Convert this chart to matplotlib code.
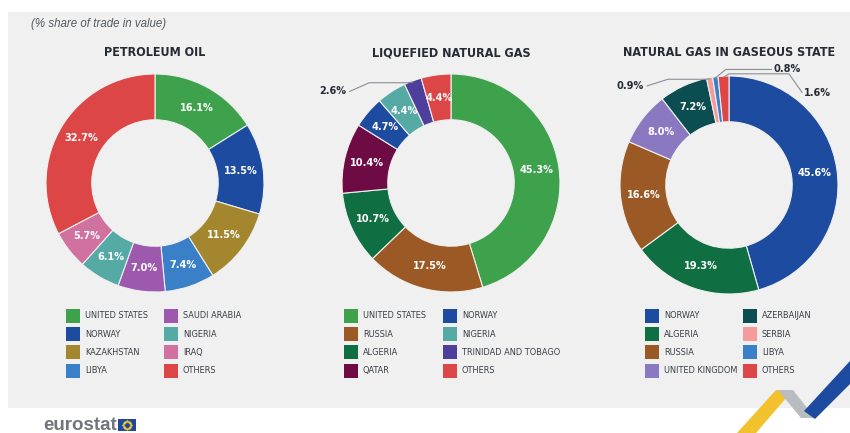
import numpy as np
import matplotlib.pyplot as plt
from matplotlib.patches import Rectangle, Polygon

W, H = 850, 433

# data (share of trade in value, %)
oil_labels = ['UNITED STATES', 'NORWAY', 'KAZAKHSTAN', 'LIBYA',
              'SAUDI ARABIA', 'NIGERIA', 'IRAQ', 'OTHERS']
oil_values = [16.1, 13.5, 11.5, 7.4, 7.0, 6.1, 5.7, 32.7]

lng_labels = ['UNITED STATES', 'RUSSIA', 'ALGERIA', 'QATAR',
              'NORWAY', 'NIGERIA', 'TRINIDAD AND TOBAGO', 'OTHERS']
lng_values = [45.3, 17.5, 10.7, 10.4, 4.7, 4.4, 2.6, 4.4]

gas_labels = ['NORWAY', 'ALGERIA', 'RUSSIA', 'UNITED KINGDOM',
              'AZERBAIJAN', 'SERBIA', 'LIBYA', 'OTHERS']
gas_values = [45.6, 19.3, 16.6, 8.0, 7.2, 0.9, 0.8, 1.6]

colors = {
    'UNITED STATES': '#3da24b',
    'NORWAY': '#1d4b9f',
    'KAZAKHSTAN': '#a3862e',
    'LIBYA': '#3a80c9',
    'SAUDI ARABIA': '#9c59ae',
    'NIGERIA': '#55aaa5',
    'IRAQ': '#d071a0',
    'OTHERS': '#dc4646',
    'RUSSIA': '#9b5a25',
    'ALGERIA': '#0f6e42',
    'QATAR': '#6e0b45',
    'TRINIDAD AND TOBAGO': '#4f3f9c',
    'AZERBAIJAN': '#0b4d50',
    'SERBIA': '#f59b9b',
    'UNITED KINGDOM': '#8a79c0',
}

plt.rcParams['font.family'] = ['DejaVu Sans']
plt.rcParams['font.stretch'] = 'condensed'
BG = '#eff0ef'
DARK = '#262c36'

fig = plt.figure(figsize=(W / 100, H / 100), dpi=100, facecolor='white')

# background canvas in pixel coords
bg = fig.add_axes([0, 0, 1, 1])
bg.set_xlim(0, W)
bg.set_ylim(H, 0)
bg.axis('off')
bg.add_patch(Rectangle((8, 12), W - 8, 396, facecolor=BG, edgecolor='none'))

bg.text(31, 24, '(% share of trade in value)', fontsize=8.3, style='italic',
        color='#555a60', family='Liberation Sans', fontstretch='normal',
        va='center')


def donut(cx, cy, title, labels, values, outside, leg_x):
    r = 109
    ax = fig.add_axes([(cx - r) / W, (H - cy - r) / H, 2 * r / W, 2 * r / H])
    wedges, _ = ax.pie(values, colors=[colors[l] for l in labels], startangle=90,
                       counterclock=False,
                       wedgeprops=dict(width=0.42, edgecolor=BG, linewidth=0.8))
    ax.set_xlim(-1, 1)
    ax.set_ylim(-1, 1)
    ax.axis('off')
    for i, (w, v) in enumerate(zip(wedges, values)):
        ang = np.deg2rad((w.theta1 + w.theta2) / 2)
        txt = f'{v:.1f}%'
        if i in outside:
            tx, ty, ha, pts = outside[i]
            anchor = (0.99 * np.cos(ang), 0.99 * np.sin(ang))
            path = pts + [anchor]
            ax.plot([p[0] for p in path], [p[1] for p in path], color='#8a8f96',
                    lw=0.8, clip_on=False)
            ax.text(tx, ty, txt, ha=ha, va='center', fontsize=7.8, color=DARK,
                    fontweight='bold', clip_on=False)
        else:
            ax.text(0.79 * np.cos(ang), 0.79 * np.sin(ang), txt, ha='center',
                    va='center', fontsize=7.8, color='white', fontweight='bold')

    bg.text(cx, 53, title, ha='center', va='center', fontsize=9,
            fontweight='bold', color=DARK)

    # legend, two columns of four
    for i, lab in enumerate(labels):
        col, row = divmod(i, 4)
        x0 = leg_x[col]
        y0 = 316 + row * 18.2
        bg.add_patch(Rectangle((x0, y0 - 7), 14, 14, facecolor=colors[lab],
                               edgecolor='none'))
        bg.text(x0 + 19, y0, lab, fontsize=6.6, color='#3a3f47', va='center')


donut(155, 183, 'PETROLEUM OIL', oil_labels, oil_values, {}, (66, 164))

donut(451, 183, 'LIQUEFIED NATURAL GAS', lng_labels, lng_values,
      {6: (-0.96, 0.84, 'right', [(-0.93, 0.84), (-0.75, 0.92), (-0.40, 0.92)])},
      (344, 443))

donut(729, 185, 'NATURAL GAS IN GASEOUS STATE', gas_labels, gas_values,
      {5: (-0.78, 0.91, 'right', [(-0.75, 0.91), (-0.56, 0.97), (-0.22, 0.97)]),
       6: (0.41, 1.06, 'left', [(0.39, 1.06), (-0.03, 1.06)]),
       7: (0.69, 0.84, 'left', [(0.67, 0.85), (0.55, 1.02), (0.0, 1.02)])},
      (645, 743))

# footer
bg.text(43, 426, 'eurostat', fontsize=13.5, fontweight='bold', color='#72767b',
        family='Liberation Sans', fontstretch='normal', va='center')
bg.add_patch(Rectangle((118, 419), 18, 12, facecolor='#2146a0', edgecolor='none'))
th = np.linspace(0, 2 * np.pi, 12, endpoint=False)
bg.scatter(127 + 3.8 * np.cos(th), 425 + 3.8 * np.sin(th), s=0.6, color='#f5d02a')

# corner ribbon
bg.add_patch(Polygon([(737, 433), (756, 433), (793, 390), (776, 390)],
                     facecolor='#f2c12e', edgecolor='none'))
bg.add_patch(Polygon([(778, 390), (793, 390), (815, 418), (801, 418)],
                     facecolor='#b9bcc0', edgecolor='none'))
bg.add_patch(Polygon([(804, 411), (815, 419), (850, 384), (850, 361)],
                     facecolor='#1d4b9f', edgecolor='none'))

fig.savefig('out.png', dpi=100, facecolor='white')
